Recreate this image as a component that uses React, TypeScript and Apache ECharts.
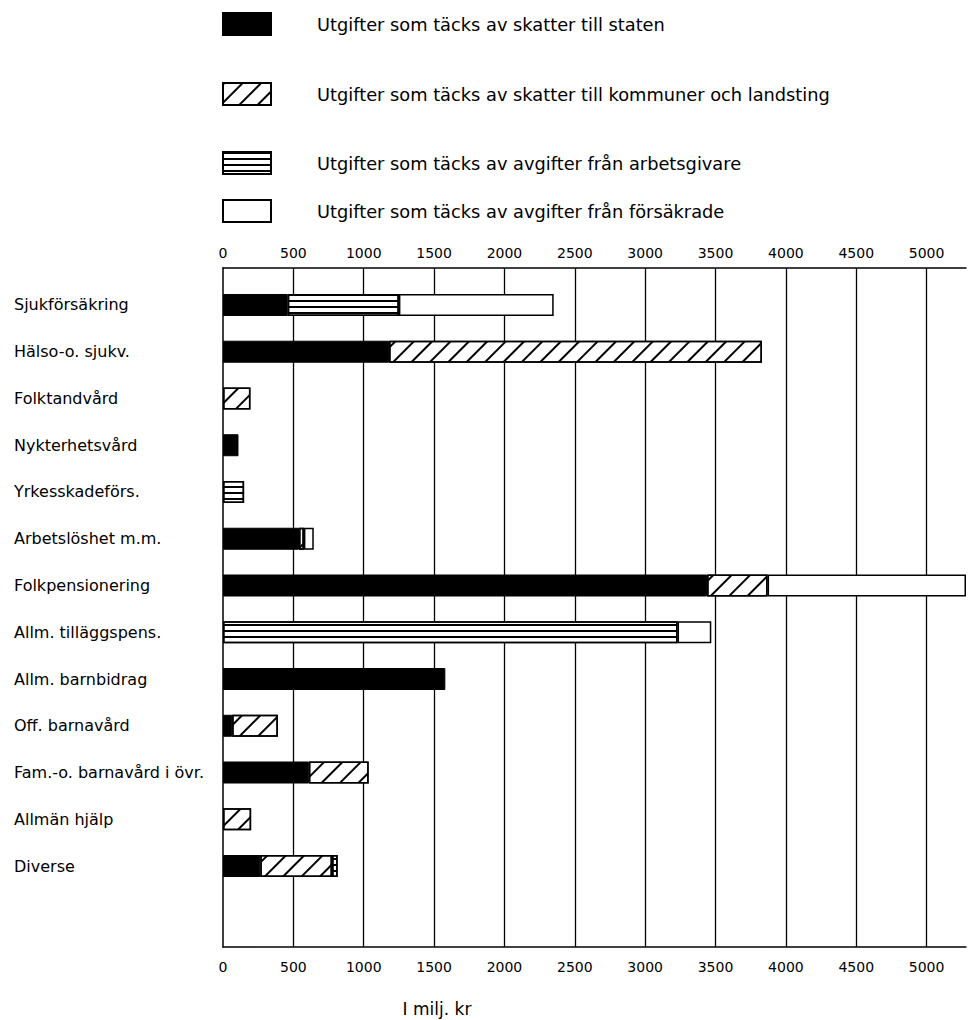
import React, { useEffect, useRef } from 'react';
import * as echarts from 'echarts';

const categories = [
  'Sjukförsäkring',
  'Hälso-o. sjukv.',
  'Folktandvård',
  'Nykterhetsvård',
  'Yrkesskadeförs.',
  'Arbetslöshet m.m.',
  'Folkpensionering',
  'Allm. tilläggspens.',
  'Allm. barnbidrag',
  'Off. barnavård',
  'Fam.-o. barnavård i övr.',
  'Allmän hjälp',
  'Diverse',
];

const seriesNames = [
  'Utgifter som täcks av skatter till staten',
  'Utgifter som täcks av skatter till kommuner och landsting',
  'Utgifter som täcks av avgifter från arbetsgivare',
  'Utgifter som täcks av avgifter från försäkrade',
];

const staten = [460, 1180, null, 110, null, 540, 3440, null, 1580, 65, 610, null, 265];
const kommuner = [null, 2650, 195, null, null, 35, 430, null, null, 325, 425, 200, 510];
const arbetsgivare = [790, null, null, null, 150, null, null, 3230, null, null, null, null, 40];
const forsakrade = [1100, null, null, null, null, 70, 1410, 240, null, null, null, null, null];

const tickValues = [0, 500, 1000, 1500, 2000, 2500, 3000, 3500, 4000, 4500, 5000];
const axisMax = 5280;
const axisUnit = 'I milj. kr';

const FONT = 'DejaVu Sans';

export default function App() {
  const ref = useRef<HTMLDivElement>(null);
  useEffect(() => {
    if (!ref.current) return;
    const chart = echarts.init(ref.current, undefined, { renderer: 'svg' });

    const hatch = {
      symbol: 'rect',
      symbolSize: 1,
      color: '#000',
      backgroundColor: '#fff',
      dashArrayX: [1, 0],
      dashArrayY: [2, 11],
      rotation: -Math.PI / 4,
    };
    const stripes = {
      symbol: 'rect',
      symbolSize: 1,
      color: '#000',
      backgroundColor: '#fff',
      dashArrayX: [1, 0],
      dashArrayY: [1.5, 3.5],
      rotation: 0,
    };

    const styles: any[] = [
      { color: '#000', borderColor: '#000', borderWidth: 1 },
      { color: '#fff', borderColor: '#000', borderWidth: 1.5, decal: hatch },
      { color: '#fff', borderColor: '#000', borderWidth: 1.5, decal: stripes },
      { color: '#fff', borderColor: '#000', borderWidth: 1.5 },
    ];
    const dataSets = [staten, kommuner, arbetsgivare, forsakrade];
    const legendTops = [12, 82, 151, 199];

    const axisLabelCommon = {
      color: '#000',
      fontSize: 14,
      fontFamily: FONT,
      showMaxLabel: false,
      formatter: (v: number) => (tickValues.includes(v) ? String(v) : ''),
    };

    chart.setOption({
      animation: false,
      backgroundColor: '#fff',
      aria: { enabled: false },
      legend: seriesNames.map((n, i) => ({
        data: [n],
        left: 222,
        top: legendTops[i],
        orient: 'vertical',
        icon: 'rect',
        itemWidth: 48,
        itemHeight: 22,
        padding: 0,
        selectedMode: false,
        textStyle: { color: '#000', fontSize: 17.8, fontFamily: FONT, padding: [0, 0, 0, 41] },
      })),
      grid: [
        { left: 223, right: 3, top: 268, bottom: 73 },
        { left: 223, right: 3, top: 281.6, bottom: 130.6 },
      ],
      xAxis: [
        {
          gridIndex: 0,
          type: 'value',
          position: 'bottom',
          min: 0,
          max: axisMax,
          interval: 500,
          axisLine: { show: true, lineStyle: { color: '#000', width: 1.5 } },
          axisTick: { show: false },
          axisLabel: { ...axisLabelCommon, margin: 13 },
          splitLine: { show: true, showMinLine: false, showMaxLine: false, lineStyle: { color: '#000', width: 1.3 } },
        },
        {
          gridIndex: 0,
          type: 'value',
          position: 'top',
          min: 0,
          max: axisMax,
          interval: 500,
          axisLine: { show: true, lineStyle: { color: '#000', width: 1.5 } },
          axisTick: { show: false },
          axisLabel: { ...axisLabelCommon, margin: 8 },
          splitLine: { show: false },
        },
        {
          gridIndex: 1,
          type: 'value',
          min: 0,
          max: axisMax,
          show: false,
        },
      ],
      yAxis: [
        {
          gridIndex: 0,
          type: 'value',
          min: 0,
          max: 1,
          axisLine: { show: true, lineStyle: { color: '#000', width: 1.5 } },
          axisTick: { show: false },
          axisLabel: { show: false },
          splitLine: { show: false },
        },
        {
          gridIndex: 1,
          type: 'category',
          inverse: true,
          data: categories,
          axisLine: { show: false },
          axisTick: { show: false },
          splitLine: { show: false },
          axisLabel: {
            color: '#000',
            fontSize: 16,
            fontFamily: FONT,
            align: 'left',
            margin: 209,
          },
        },
      ],
      series: seriesNames.map((n, i) => ({
        name: n,
        type: 'bar',
        xAxisIndex: 2,
        yAxisIndex: 1,
        stack: 'total',
        barWidth: 22,
        itemStyle: styles[i],
        data: dataSets[i],
      })),
      graphic: [
        {
          type: 'text',
          x: 437,
          y: 1009,
          style: {
            text: axisUnit,
            fill: '#000',
            fontSize: 17,
            fontFamily: FONT,
            textAlign: 'center',
            textVerticalAlign: 'middle',
          },
        },
      ],
    });
    return () => chart.dispose();
  }, []);
  return (
    <div
      ref={ref}
      style={{ position: 'fixed', left: 0, top: 0, width: 969, height: 1020, background: '#fff' }}
    />
  );
}
